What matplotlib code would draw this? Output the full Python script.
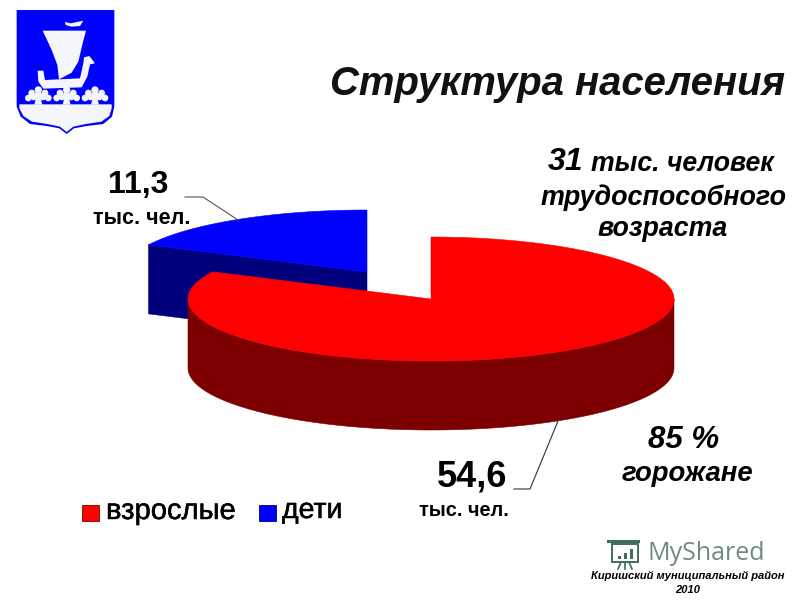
import numpy as np
import matplotlib
matplotlib.use("Agg")
import matplotlib.pyplot as plt
from matplotlib.patches import Polygon, Circle, Rectangle
import matplotlib.patheffects as pe

categories = ["взрослые", "дети"]
values = [54.6, 11.3]
value_labels = ["54,6", "11,3"]
unit_label = "тыс. чел."
title = "Структура населения"
note_top = ["31 тыс. человек", "трудоспособного", "возраста"]
note_bottom = ["85 %", "горожане"]
footer = ["Киришский муниципальный район", "2010"]

RED, DRED = "#ff0000", "#7d0000"
BLUE, DBLUE = "#0000ff", "#00007d"
plt.rcParams["font.family"] = ["Liberation Sans", "DejaVu Sans"]

fig = plt.figure(figsize=(8, 6), dpi=100)
ax = fig.add_axes([0, 0, 1, 1])
ax.set_xlim(0, 800)
ax.set_ylim(600, 0)
ax.axis("off")

RX, RY, DEPTH = 243, 62, 69
share = values[0] / sum(values)
# clockwise from 12 o'clock, with a small correction for the 3D view
split = 2 * np.pi * share - np.radians(2.3)


def pt(cx, cy, a, dy=0):
    return cx + RX * np.sin(a), cy - RY * np.cos(a) + dy


def arc(cx, cy, a0, a1, dy=0):
    a = np.linspace(a0, a1, 200)
    return np.column_stack(pt(cx, cy, a, dy))


def poly(xy, color, z):
    ax.add_patch(Polygon(xy, closed=True, fc=color, ec=color, lw=0.4, zorder=z))


# children slice (pulled out to the upper left)
bx, by = 367, 272
bl = np.array(pt(bx, by, split))
bc = np.array([bx, by])
bl_low = bl + [0, DEPTH]
poly([bl, bc, bc + [0, DEPTH], bl_low], DBLUE, 1)
poly(np.vstack([[bc], arc(bx, by, split, 2 * np.pi)]), BLUE, 2)

# adults slice
rx, ry = 431, 299
side = arc(rx, ry, np.pi / 2, 3 * np.pi / 2)
poly(np.vstack([side, (side + [0, DEPTH])[::-1]]), DRED, 3)
poly(np.vstack([[rx, ry], arc(rx, ry, 0, split)]), RED, 4)

# leader lines
ax.plot([185, 203, 238], [197, 197, 220], color="#555555", lw=0.8, zorder=5)
ax.plot([514, 530, 558], [489, 489, 421], color="#333333", lw=0.8, zorder=5)

# data labels
ax.text(138, 185, value_labels[1], fontsize=23, fontweight="bold", ha="center", va="center", color="black")
ax.text(142, 218, unit_label, fontsize=15.5, fontweight="bold", ha="center", va="center", color="black")
ax.text(472, 477, value_labels[0], fontsize=26, fontweight="bold", ha="center", va="center", color="black")
ax.text(464, 510, unit_label, fontsize=14.4, fontweight="bold", ha="center", va="center", color="black")

# title and notes
ax.text(557, 84, title, fontsize=28.8, fontweight="bold", style="italic", ha="center", va="center", color="#111111")
ax.text(548, 162, "31", fontsize=23, fontweight="bold", style="italic", ha="left", va="center")
ax.text(591, 164, note_top[0].split(" ", 1)[1], fontsize=19.2, fontweight="bold", style="italic", ha="left", va="center")
ax.text(664, 198, note_top[1], fontsize=19.4, fontweight="bold", style="italic", ha="center", va="center")
ax.text(663, 229, note_top[2], fontsize=19.3, fontweight="bold", style="italic", ha="center", va="center")
ax.text(684, 440, note_bottom[0], fontsize=22.5, fontweight="bold", style="italic", ha="center", va="center")
ax.text(687, 474, note_bottom[1], fontsize=19.8, fontweight="bold", style="italic", ha="center", va="center")

# legend
colors = [RED, BLUE]
lx = [82, 259]
tx = [106, 282]
for c, x, t, name in zip(colors, lx, tx, categories):
    ax.add_patch(Rectangle((x, 505), 17, 16, fc=c, ec="#7d0000" if c == RED else "#00007d", lw=0.6))
    ax.text(t, 511, name, fontsize=21 if c == RED else 20.5, ha="left", va="center", color="black",
            path_effects=[pe.withStroke(linewidth=0.35, foreground="black")])

# footer
ax.text(688, 576, footer[0], fontsize=8, fontweight="bold", style="italic", ha="center", va="center")
ax.text(688, 590, footer[1], fontsize=8, fontweight="bold", style="italic", ha="center", va="center")

# watermark
ax.text(647, 554, "MyShared", fontsize=18, color="#6f8a84", ha="left", va="center", fontfamily="Open Sans")
G = "#3f6b60"
ax.add_patch(Rectangle((612, 544), 26, 18, fc="none", ec=G, lw=1.4))
ax.plot([608, 638], [541, 541], color=G, lw=2.2)
for x0, h in [(618, 3), (624, 6), (630, 10)]:
    ax.add_patch(Rectangle((x0, 559 - h), 3, h, fc=G, ec="none"))
ax.plot([621, 618], [562, 569], color=G, lw=1.2)
ax.plot([629, 632], [562, 569], color=G, lw=1.2)
ax.plot([625, 625], [562, 569], color=G, lw=1.2)


# coat of arms
def z3(points):
    return np.array(points, float) / 3


W = "#f4f6fb"
shield = z3([(50, 30), (343, 30), (343, 320), (336, 350), (310, 372), (260, 378), (222, 385), (200, 402),
             (178, 385), (140, 378), (90, 372), (62, 350), (50, 320)])
ax.add_patch(Polygon(shield, fc=BLUE, ec="none", zorder=6))
white = z3([(58, 313), (335, 313), (335, 325), (328, 348), (304, 365), (258, 372), (220, 380), (200, 396),
            (180, 380), (142, 372), (96, 365), (70, 348), (58, 325)])
ax.add_patch(Polygon(white, fc=W, ec="none", zorder=7))
sail = z3([(128, 92), (258, 92), (248, 130), (235, 185), (215, 218), (177, 238), (172, 195), (155, 150)])
ax.add_patch(Polygon(sail, fc=W, ec="none", zorder=7))
hull = z3([(113, 212), (130, 212), (135, 240), (240, 235), (250, 190), (252, 172), (268, 168), (285, 190),
           (270, 193), (262, 230), (245, 262), (130, 266), (115, 245)])
ax.add_patch(Polygon(hull, fc=W, ec="none", zorder=7))
flag = z3([(195, 66), (212, 70), (250, 62), (240, 78), (215, 80), (197, 75)])
ax.add_patch(Polygon(flag, fc=W, ec="none", zorder=7))
for cx in (115, 200, 285):
    for dx, dy, r in [(-30, 12, 10), (-20, -3, 10), (0, -12, 11), (20, -3, 10), (30, 12, 10),
                      (0, 6, 13), (-14, 10, 9), (14, 10, 9)]:
        xc, yc = (cx + dx) / 3, (282 + dy) / 3
        ax.add_patch(Circle((xc, yc), r / 3, fc=W, ec="none", zorder=8))
    ax.add_patch(Polygon(z3([(cx - 6, 290), (cx + 6, 290), (cx + 12, 314), (cx - 12, 314)]), fc=W, ec="none", zorder=8))

fig.savefig("out.png", dpi=100, facecolor="white")
